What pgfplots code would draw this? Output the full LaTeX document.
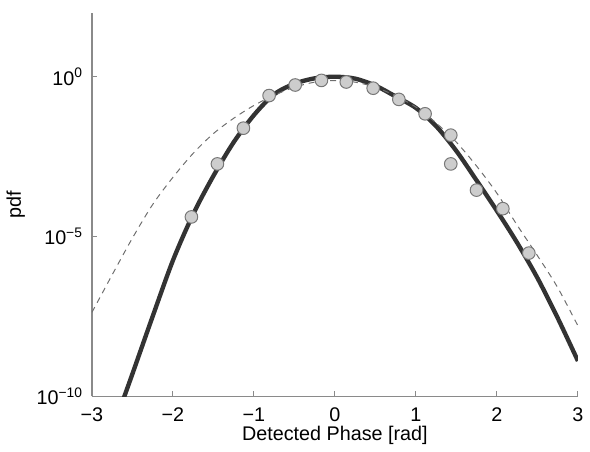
\documentclass[border=0pt]{standalone}
\usepackage{pgfplots}
\pgfplotsset{compat=1.18}
\usepackage{fontspec}
\setmainfont{Liberation Sans}

\definecolor{fitline}{HTML}{333333}
\definecolor{gaussline}{HTML}{6E6E6E}
\definecolor{markfill}{HTML}{CDCDCD}
\definecolor{markdraw}{HTML}{777777}
\definecolor{spine}{HTML}{8A8A8A}

\begin{document}
\begin{tikzpicture}
\begin{axis}[
  scale only axis, width=246pt, height=194pt,
  ymode=log, xmin=-3, xmax=3, ymin=1e-10, ymax=100,
  axis x line*=bottom, axis y line*=left,
  axis line style={-, draw=spine, line width=0.6pt},
  tick align=inside, major tick length=2.5pt,
  tick style={draw=spine, line width=0.5pt},
  yminorticks=false,
  xtick={-3,-2,-1,0,1,2,3},
  xticklabels={−3,−2,−1,0,1,2,3},
  ytick={1e-10,1e-5,1},
  yticklabels={10\textsuperscript{−10},10\textsuperscript{−5},10\textsuperscript{0}},
  ticklabel style={font=\fontsize{10}{11}\selectfont},
  xticklabel style={yshift=-2.5pt},
  yticklabel style={xshift=-1pt},
  xlabel={Detected Phase [rad]},
  ylabel={pdf},
  label style={font=\fontsize{10}{11}\selectfont},
  xlabel style={yshift=4.5pt},
  ylabel style={yshift=-1pt},
  clip=true]
  % fitted model (thick solid)
  \addplot[fitline, line width=2.2pt, smooth] coordinates {
    (-2.62,7.1e-11) (-2.5,5.0e-10) (-2.25,3.16e-8) (-2.0,1.78e-6)
    (-1.75,5.0e-5) (-1.5,7.9e-4) (-1.25,8.9e-3) (-1.0,6.3e-2)
    (-0.75,0.282) (-0.5,0.603) (-0.25,0.891) (0,1.0)
    (0.25,0.871) (0.5,0.525) (0.75,0.240) (1.0,0.105)
    (1.25,2.82e-2) (1.5,4.7e-3) (1.75,5.6e-4) (2.0,6.3e-5)
    (2.25,6.3e-6) (2.5,5.0e-7) (2.75,2.8e-8) (3.0,1.26e-9)};
  % measured histogram
  \addplot[only marks, mark=*, mark size=3.2pt,
    mark options={fill=markfill, draw=markdraw, line width=0.5pt}] coordinates {
    (-1.772,4.07e-5) (-1.451,1.86e-3) (-1.130,2.45e-2) (-0.813,0.257)
    (-0.491,0.550) (-0.167,0.767) (0.140,0.684) (0.472,0.437)
    (0.789,0.195) (1.113,6.9e-2) (1.430,1.48e-2) (1.430,1.86e-3)
    (1.748,2.82e-4) (2.073,7.4e-5) (2.394,3.0e-6)};
  % gaussian reference (thin dashed)
  \addplot[gaussline, line width=0.5pt, dash pattern=on 3pt off 2.5pt, smooth] coordinates {
    (-3.0,4.2e-8) (-2.75,6.3e-7) (-2.5,8.9e-6) (-2.25,1.0e-4)
    (-2.0,7.1e-4) (-1.75,4.0e-3) (-1.5,1.66e-2) (-1.25,5.0e-2)
    (-1.0,0.126) (-0.75,0.263) (-0.5,0.468) (-0.25,0.676)
    (0,0.759) (0.25,0.676) (0.5,0.468) (0.75,0.251)
    (1.0,0.112) (1.25,3.55e-2) (1.5,8.9e-3) (1.75,1.58e-3)
    (2.0,2.24e-4) (2.25,2.24e-5) (2.5,2.5e-6) (2.75,2.5e-7)
    (3.0,1.58e-8)};
\end{axis}
\path (current axis.north west) ++(0,6.5pt) -- ++(1pt,0);
\end{tikzpicture}
\end{document}
